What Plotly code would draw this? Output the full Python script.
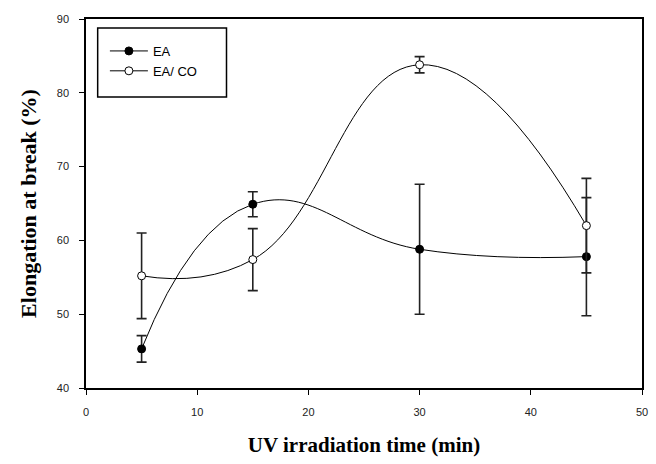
import plotly.graph_objects as go

time_min = [5, 15, 30, 45]
ea_values = [45.3, 64.9, 58.8, 57.8]
ea_errors = [1.8, 1.7, 8.8, 8.0]
eaco_values = [55.2, 57.4, 83.8, 62.0]
eaco_errors = [5.8, 4.2, 1.1, 6.4]
x_ticks = [0, 10, 20, 30, 40, 50]
y_ticks = [40, 50, 60, 70, 80, 90]

fig = go.Figure()
fig.add_trace(go.Scatter(
    x=time_min, y=ea_values, name="EA", mode="lines+markers",
    line=dict(color="black", width=1, shape="spline", smoothing=1.3),
    marker=dict(symbol="circle", size=8, color="black", line=dict(color="black", width=1)),
    error_y=dict(type="data", array=ea_errors, visible=True, color="#222", thickness=1.6, width=5),
))
fig.add_trace(go.Scatter(
    x=time_min, y=eaco_values, name="EA/ CO", mode="lines+markers",
    line=dict(color="black", width=1, shape="spline", smoothing=1.3),
    marker=dict(symbol="circle", size=8, color="white", line=dict(color="black", width=1)),
    error_y=dict(type="data", array=eaco_errors, visible=True, color="#222", thickness=1.6, width=5),
))

axis_common = dict(
    showline=True, linecolor="black", linewidth=1.5, mirror=True,
    ticks="outside", ticklen=5, tickwidth=1.2, tickcolor="black",
    showgrid=False, zeroline=False,
    tickfont=dict(family="Liberation Sans, Arial", size=11, color="#222"),
)

# legend frame (decoration)
fig.add_shape(type="rect", xref="paper", yref="paper",
              x0=0.021, x1=0.2527, y0=0.7886, y1=0.9756,
              line=dict(color="black", width=1.5), fillcolor="white", layer="below")

fig.update_layout(
    width=656, height=464,
    margin=dict(l=86, r=8, t=19, b=76),
    paper_bgcolor="white", plot_bgcolor="white",
    xaxis=dict(range=[0, 50], tickvals=x_ticks, ticklabelstandoff=8,
               title=dict(text="UV irradiation time (min)", standoff=20,
                          font=dict(family="Liberation Serif, Times New Roman", size=21, color="black", weight="bold")),
               **axis_common),
    yaxis=dict(range=[40, 90], tickvals=y_ticks, ticklabelstandoff=8,
               title=dict(text="Elongation at break (%)", standoff=14,
                          font=dict(family="Liberation Serif, Times New Roman", size=22, color="black", weight="bold")),
               **axis_common),
    legend=dict(x=0.034, y=0.954, xanchor="left", yanchor="top",
                borderwidth=0, bgcolor="rgba(0,0,0,0)",
                font=dict(family="Liberation Sans, Arial", size=13, color="black"),
                itemwidth=38, tracegroupgap=0),
    showlegend=True,
)

fig.write_html("out.html")
